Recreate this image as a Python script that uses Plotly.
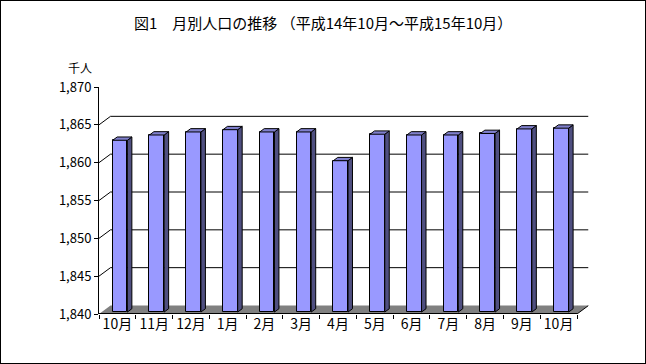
import plotly.graph_objects as go

# ---- data ----
categories = ["10月", "11月", "12月", "1月", "2月", "3月", "4月",
              "5月", "6月", "7月", "8月", "9月", "10月"]
population = [1862.7, 1863.4, 1863.8, 1864.1, 1863.8, 1863.8, 1860.0,
              1863.5, 1863.4, 1863.4, 1863.6, 1864.2, 1864.3]
y_ticks = [1840, 1845, 1850, 1855, 1860, 1865, 1870]
title_text = "図1　月別人口の推移 （平成14年10月～平成15年10月）"
unit_text = "千人"

# ---- layout geometry (pixels) ----
W, H = 646, 364
FX0, FX1 = 99, 577        # front plane left/right
FY0, FY1 = 314, 87        # front plane y of axis min / max
DEPTH_X, DEPTH_Y = 11.5, 8.5
YMIN, YMAX = y_ticks[0], y_ticks[-1]
n = len(categories)

ppu_x = (FX1 - FX0) / n
ppu_y = (FY0 - FY1) / (YMAX - YMIN)
dxw = DEPTH_X / ppu_x
dyw = DEPTH_Y / ppu_y

F_POS = 0.23      # depth position of bar front face
B_DEPTH = 0.39    # bar depth fraction
BAR_W = 0.40

FONT = "Noto Sans CJK JP"
FRONT = "#9999FF"
SIDE = "#4f4f80"
TOP = "#7f7fcc"

xs = list(range(n))
front_x = [x + F_POS * dxw for x in xs]
base = YMIN + F_POS * dyw
tops = [v + F_POS * dyw for v in population]
bx, by = B_DEPTH * dxw, B_DEPTH * dyw

fig = go.Figure()

# front faces
fig.add_trace(go.Bar(
    x=front_x, y=[t - base for t in tops], base=base, width=BAR_W,
    marker=dict(color=FRONT, line=dict(color="black", width=1)),
    hoverinfo="skip", showlegend=False))

# side faces
sx, sy = [], []
for cx, t in zip(front_x, tops):
    xr = cx + BAR_W / 2
    sx += [xr, xr, xr + bx, xr + bx, xr, None]
    sy += [base, t, t + by, base + by, base, None]
fig.add_trace(go.Scatter(x=sx, y=sy, mode="lines", fill="toself",
                         fillcolor=SIDE, line=dict(color="black", width=1),
                         hoverinfo="skip", showlegend=False))
# top faces
tx, ty = [], []
for cx, t in zip(front_x, tops):
    xl, xr = cx - BAR_W / 2, cx + BAR_W / 2
    tx += [xl, xr, xr + bx, xl + bx, xl, None]
    ty += [t, t, t + by, t + by, t, None]
fig.add_trace(go.Scatter(x=tx, y=ty, mode="lines", fill="toself",
                         fillcolor=TOP, line=dict(color="black", width=1),
                         hoverinfo="skip", showlegend=False))

shapes = []
x_left, x_right = -0.5, n - 0.5
# back wall gridlines and connectors
for v in y_ticks[1:-1]:
    shapes.append(dict(type="line", xref="x", yref="y", layer="below",
                       x0=x_left + dxw, x1=x_right + dxw, y0=v + dyw, y1=v + dyw,
                       line=dict(color="black", width=1)))
    shapes.append(dict(type="line", xref="x", yref="y", layer="below",
                       x0=x_left, x1=x_left + dxw, y0=v, y1=v + dyw,
                       line=dict(color="black", width=1)))
# floor
floor_path = (f"M {x_left} {YMIN} L {x_right} {YMIN} "
              f"L {x_right + dxw} {YMIN + dyw} L {x_left + dxw} {YMIN + dyw} Z")
shapes.append(dict(type="path", xref="x", yref="y", layer="below", path=floor_path,
                   fillcolor="#808080", line=dict(color="#808080", width=0)))
# floor right edge + front line
shapes.append(dict(type="line", xref="x", yref="y", layer="above",
                   x0=x_right, x1=x_right + dxw, y0=YMIN, y1=YMIN + dyw,
                   line=dict(color="black", width=1)))
shapes.append(dict(type="line", xref="x", yref="y", layer="above",
                   x0=x_left, x1=x_right, y0=YMIN, y1=YMIN,
                   line=dict(color="black", width=2)))
# outer border
shapes.append(dict(type="rect", xref="paper", yref="paper", x0=0, x1=1, y0=0, y1=1,
                   line=dict(color="black", width=2)))

fig.update_layout(
    width=W, height=H, margin=dict(l=0, r=0, t=0, b=0),
    paper_bgcolor="white", plot_bgcolor="rgba(0,0,0,0)",
    shapes=shapes, bargap=0,
    font=dict(family=FONT, size=12, color="black"),
    xaxis=dict(domain=[FX0 / W, (FX1 + DEPTH_X) / W],
               range=[x_left, x_right + dxw], showgrid=False, zeroline=False,
               showline=False, tickvals=xs, ticktext=categories, ticks="",
               tickfont=dict(family=FONT, size=14), automargin=False,
               minor=dict(tickvals=[x + 0.5 for x in xs[:-1]] + [x_left, x_right],
                          ticks="outside", ticklen=4, tickcolor="black"),
               fixedrange=True),
    yaxis=dict(domain=[1 - FY0 / H, 1 - FY1 / H], range=[YMIN, YMAX],
               tickvals=y_ticks, tickformat=",d", ticks="outside", ticklen=4,
               tickcolor="black", showline=True, linecolor="black", linewidth=1,
               showgrid=False, zeroline=False, automargin=False,
               tickfont=dict(family=FONT, size=13), fixedrange=True),
    annotations=[
        dict(text=title_text, x=0.5, y=1 - 22 / H, xref="paper", yref="paper",
             showarrow=False, xanchor="center", yanchor="middle",
             font=dict(family=FONT, size=15)),
        dict(text=unit_text, x=80 / W, y=1 - 67 / H, xref="paper", yref="paper",
             showarrow=False, xanchor="center", yanchor="middle",
             font=dict(family=FONT, size=12)),
    ],
)

fig.write_html("out.html", config={"displayModeBar": False},
               post_script="document.body.style.margin='0';document.body.style.overflow='hidden';")
